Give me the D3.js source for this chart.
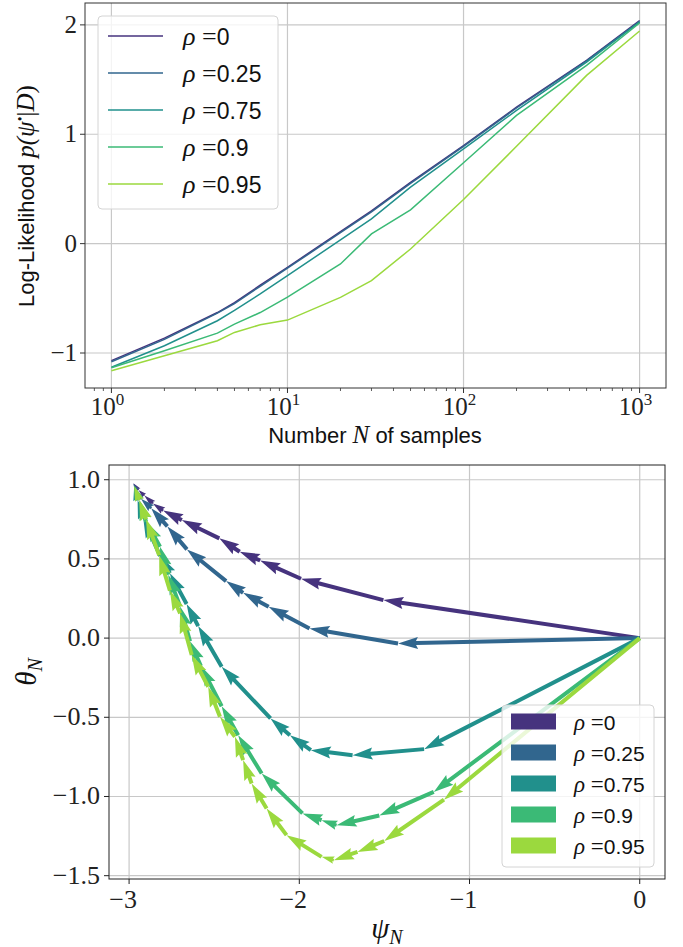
<!DOCTYPE html>
<html>
<head>
<meta charset="utf-8">
<script src="https://cdn.jsdelivr.net/npm/d3@7"></script>
<style>
  body { margin: 0; background: #fff; }
  svg { display: block; }
</style>
</head>
<body>
<svg width="683" height="947"></svg>
<script>
// ---- data ----
const sampleSizes = [1, 2, 4, 5, 7, 10, 20, 30, 50, 100, 200, 500, 1000];
const rhoLabels = ['0', '0.25', '0.75', '0.9', '0.95'];
const llRho0   = [-1.07, -0.864, -0.63, -0.54, -0.38, -0.217, 0.11, 0.30, 0.56, 0.897, 1.248, 1.676, 2.04];
const llRho025 = [-1.08, -0.875, -0.635, -0.548, -0.39, -0.225, 0.10, 0.29, 0.55, 0.89, 1.24, 1.67, 2.03];
const llRho075 = [-1.13, -0.934, -0.705, -0.61, -0.46, -0.293, 0.034, 0.226, 0.516, 0.867, 1.218, 1.66, 2.027];
const llRho09  = [-1.135, -0.98, -0.818, -0.736, -0.63, -0.49, -0.186, 0.089, 0.309, 0.739, 1.172, 1.63, 2.017];
const llRho095 = [-1.163, -1.026, -0.888, -0.812, -0.742, -0.699, -0.492, -0.339, -0.049, 0.403, 0.89, 1.538, 1.944];

// trajectories [psi, theta]
const trajRho0 = [[0, 0], [-1.506, 0.240], [-1.99, 0.375], [-2.23, 0.49], [-2.35, 0.545], [-2.47, 0.63],
  [-2.69, 0.745], [-2.80, 0.805], [-2.86, 0.85], [-2.91, 0.90], [-2.945, 0.935], [-2.975, 0.977]];
const trajRho025 = [[0, 0], [-1.42, -0.034], [-1.94, 0.061], [-2.18, 0.198], [-2.33, 0.286], [-2.43, 0.36],
  [-2.66, 0.56], [-2.775, 0.705], [-2.87, 0.82], [-2.93, 0.88], [-2.955, 0.935], [-2.975, 0.975]];
const trajRho075 = [[0, 0], [-1.267, -0.701], [-1.687, -0.739], [-1.932, -0.708], [-2.055, -0.613], [-2.169, -0.507],
  [-2.456, -0.181], [-2.594, 0.076], [-2.662, 0.215], [-2.76, 0.409], [-2.818, 0.518], [-2.917, 0.76],
  [-2.95, 0.87], [-2.97, 0.96]];
const trajRho09 = [[0, 0], [-1.21, -0.971], [-1.53, -1.12], [-1.781, -1.181], [-1.869, -1.15], [-1.981, -1.107],
  [-2.221, -0.855], [-2.359, -0.613], [-2.456, -0.43], [-2.578, -0.176], [-2.642, -0.02], [-2.70, 0.20],
  [-2.77, 0.40], [-2.818, 0.577], [-2.90, 0.734], [-2.94, 0.872], [-2.97, 0.96]];
const trajRho095 = [[0, 0], [-1.15, -1.02], [-1.501, -1.281], [-1.658, -1.35], [-1.797, -1.402], [-1.869, -1.381],
  [-2.075, -1.244], [-2.192, -1.076], [-2.28, -0.918], [-2.33, -0.77], [-2.378, -0.623], [-2.466, -0.497],
  [-2.535, -0.307], [-2.632, -0.107], [-2.70, 0.156], [-2.76, 0.30], [-2.823, 0.522], [-2.90, 0.75],
  [-2.94, 0.87], [-2.97, 0.96]];

const topTicksY = [-1, 0, 1, 2];
const topTicksX = [1, 10, 100, 1000];
const botTicksY = [1.0, 0.5, 0.0, -0.5, -1.0, -1.5];
const botTicksX = [-3, -2, -1, 0];

const colors = ['#46337e', '#31668e', '#21908c', '#3bba76', '#9bd93e'];
const gridColor = '#c8c8c8';
const SERIF = "'Liberation Serif', 'DejaVu Serif', serif";
const SANS = "'Liberation Sans', 'DejaVu Sans', sans-serif";

const svg = d3.select('svg');
const series = [llRho0, llRho025, llRho075, llRho09, llRho095];
const trajs = [trajRho0, trajRho025, trajRho075, trajRho09, trajRho095];

const fmtMinus = s => String(s).replace('-', '\u2212');

// ---------- top panel ----------
const tp = { left: 85, right: 666, top: 3, bottom: 388 };
const xTop = d3.scaleLog().domain([Math.pow(10, -0.15), Math.pow(10, 3.15)]).range([tp.left, tp.right]);
const yTop = d3.scaleLinear().domain([-1.32, 2.2]).range([tp.bottom, tp.top]);

let gTop = svg.append('g');

// grid
gTop.selectAll('.gx').data(topTicksX).enter().append('line')
  .attr('x1', d => xTop(d)).attr('x2', d => xTop(d))
  .attr('y1', tp.top).attr('y2', tp.bottom)
  .attr('stroke', gridColor).attr('stroke-width', 1.2);
gTop.selectAll('.gy').data(topTicksY).enter().append('line')
  .attr('x1', tp.left).attr('x2', tp.right)
  .attr('y1', d => yTop(d)).attr('y2', d => yTop(d))
  .attr('stroke', gridColor).attr('stroke-width', 1.2);

// lines
let line = d3.line().x((d, i) => xTop(sampleSizes[i])).y(d => yTop(d));
series.forEach((s, k) => {
  gTop.append('path').datum(s)
    .attr('d', line)
    .attr('fill', 'none')
    .attr('stroke', colors[k])
    .attr('stroke-width', 1.5);
});

// frame
gTop.append('rect')
  .attr('x', tp.left).attr('y', tp.top)
  .attr('width', tp.right - tp.left).attr('height', tp.bottom - tp.top)
  .attr('fill', 'none').attr('stroke', '#333').attr('stroke-width', 1);

// x ticks (major + minor)
let minor = [];
for (let e = -1; e <= 3; e++) {
  for (let m = 2; m <= 9; m++) {
    let v = m * Math.pow(10, e);
    if (v > xTop.domain()[0] && v < xTop.domain()[1]) minor.push(v);
  }
}
gTop.selectAll('.mt').data(minor).enter().append('line')
  .attr('x1', d => xTop(d)).attr('x2', d => xTop(d))
  .attr('y1', tp.bottom).attr('y2', tp.bottom + 3)
  .attr('stroke', '#333').attr('stroke-width', 0.8);
gTop.selectAll('.Mt').data(topTicksX).enter().append('line')
  .attr('x1', d => xTop(d)).attr('x2', d => xTop(d))
  .attr('y1', tp.bottom).attr('y2', tp.bottom + 5)
  .attr('stroke', '#333').attr('stroke-width', 1);
let xl = gTop.selectAll('.xl').data(topTicksX).enter().append('text')
  .attr('x', d => xTop(d) - 4).attr('y', 415)
  .attr('text-anchor', 'middle')
  .style('font-family', SERIF)
  .style('font-size', '25px').style('fill', '#222');
xl.append('tspan').text('10');
xl.append('tspan').attr('dy', -10).style('font-size', '17px').text(d => Math.round(Math.log10(d)));

// y ticks
gTop.selectAll('.yt').data(topTicksY).enter().append('line')
  .attr('x1', tp.left - 5).attr('x2', tp.left)
  .attr('y1', d => yTop(d)).attr('y2', d => yTop(d))
  .attr('stroke', '#333');
gTop.selectAll('.yl').data(topTicksY).enter().append('text')
  .attr('x', 77).attr('y', d => yTop(d) + 8)
  .attr('text-anchor', 'end')
  .style('font-family', SERIF)
  .style('font-size', '25px').style('fill', '#222')
  .text(d => fmtMinus(d));

// axis labels
let xlab = gTop.append('text').attr('x', 375).attr('y', 443)
  .attr('text-anchor', 'middle').style('font-size', '22px').style('fill', '#111');
xlab.append('tspan').style('font-family', SANS).text('Number ');
xlab.append('tspan').style('font-family', SERIF).style('font-style', 'italic').style('font-size', '25px').text('N');
xlab.append('tspan').style('font-family', SANS).text(' of samples');

let ylab = gTop.append('text')
  .attr('transform', 'translate(34,196) rotate(-90)')
  .attr('text-anchor', 'middle').style('font-size', '22px').style('fill', '#111');
ylab.append('tspan').style('font-family', SANS).text('Log-Likelihood ');
ylab.append('tspan').style('font-family', SERIF).style('font-style', 'italic').style('font-size', '25px').text('p(\u03C8');
ylab.append('tspan').style('font-family', SERIF).attr('dy', -9).style('font-size', '14px').text('\u2022');
ylab.append('tspan').style('font-family', SERIF).attr('dy', 9).style('font-size', '25px').text('|');
ylab.append('tspan').style('font-family', SERIF).style('font-style', 'italic').style('font-size', '25px').text('D');
ylab.append('tspan').style('font-family', SERIF).style('font-size', '25px').text(')');

// legend (top)
let legTop = gTop.append('g');
legTop.append('rect')
  .attr('x', 98).attr('y', 16).attr('width', 180).attr('height', 193)
  .attr('rx', 4).attr('fill', '#fff').attr('fill-opacity', 0.8)
  .attr('stroke', '#d4d4d4');
rhoLabels.forEach((lab, k) => {
  let cy = 36 + k * 37;
  legTop.append('line')
    .attr('x1', 108).attr('x2', 163).attr('y1', cy).attr('y2', cy)
    .attr('stroke', colors[k]).attr('stroke-width', 1.5);
  let t = legTop.append('text').attr('x', 183).attr('y', cy + 9).style('fill', '#111');
  t.append('tspan').style('font-family', SERIF).style('font-style', 'italic').style('font-size', '26px').text('\u03C1');
  t.append('tspan').style('font-family', SERIF).style('font-size', '26px').text(' =');
  t.append('tspan').style('font-family', SANS).style('font-size', '23px').text(lab);
});

// ---------- bottom panel ----------
const bp = { left: 109, right: 665, top: 465, bottom: 879 };
const xBot = d3.scaleLinear().domain([-3.118, 0.1485]).range([bp.left, bp.right]);
const yBot = d3.scaleLinear().domain([-1.521, 1.093]).range([bp.bottom, bp.top]);

let gBot = svg.append('g');

gBot.selectAll('.gx').data(botTicksX).enter().append('line')
  .attr('x1', d => xBot(d)).attr('x2', d => xBot(d))
  .attr('y1', bp.top).attr('y2', bp.bottom)
  .attr('stroke', gridColor).attr('stroke-width', 1.2);
gBot.selectAll('.gy').data(botTicksY).enter().append('line')
  .attr('x1', bp.left).attr('x2', bp.right)
  .attr('y1', d => yBot(d)).attr('y2', d => yBot(d))
  .attr('stroke', gridColor).attr('stroke-width', 1.2);

// quiver arrows (matplotlib-like polygons)
const shaftW = 4;
function arrowPoly(L, w) {
  let hl = 5 * w, hal = 4.5 * w, hw = 3 * w;
  let s = 1, len = L;
  if (L < hl) { s = L / hl; len = hl; }
  let pts = [[0, -w / 2], [len - hal, -w / 2], [len - hl, -hw / 2], [len, 0],
    [len - hl, hw / 2], [len - hal, w / 2], [0, w / 2]];
  return pts.map(p => [p[0] * s, p[1] * s]);
}

trajs.forEach((tr, k) => {
  let segs = d3.pairs(tr);
  gBot.append('g').selectAll('path').data(segs).enter().append('path')
    .attr('d', d => {
      let x0 = xBot(d[0][0]), y0 = yBot(d[0][1]);
      let x1 = xBot(d[1][0]), y1 = yBot(d[1][1]);
      let L = Math.hypot(x1 - x0, y1 - y0);
      return d3.line()(arrowPoly(L, shaftW)) + 'Z';
    })
    .attr('transform', d => {
      let x0 = xBot(d[0][0]), y0 = yBot(d[0][1]);
      let x1 = xBot(d[1][0]), y1 = yBot(d[1][1]);
      let a = Math.atan2(y1 - y0, x1 - x0) * 180 / Math.PI;
      return 'translate(' + x0 + ',' + y0 + ') rotate(' + a + ')';
    })
    .attr('fill', colors[k]);
});

gBot.append('rect')
  .attr('x', bp.left).attr('y', bp.top)
  .attr('width', bp.right - bp.left).attr('height', bp.bottom - bp.top)
  .attr('fill', 'none').attr('stroke', '#222').attr('stroke-width', 1);

gBot.selectAll('.xt').data(botTicksX).enter().append('line')
  .attr('x1', d => xBot(d)).attr('x2', d => xBot(d))
  .attr('y1', bp.bottom).attr('y2', bp.bottom + 5)
  .attr('stroke', '#222');
gBot.selectAll('.xl').data(botTicksX).enter().append('text')
  .attr('x', d => xBot(d) - (d < 0 ? 6 : 0)).attr('y', 908)
  .attr('text-anchor', 'middle')
  .style('font-family', SERIF)
  .style('font-size', '26px').style('fill', '#222')
  .text(d => fmtMinus(d));
gBot.selectAll('.yt').data(botTicksY).enter().append('line')
  .attr('x1', bp.left - 5).attr('x2', bp.left)
  .attr('y1', d => yBot(d)).attr('y2', d => yBot(d))
  .attr('stroke', '#222');
gBot.selectAll('.yl').data(botTicksY).enter().append('text')
  .attr('x', 100).attr('y', d => yBot(d) + 8)
  .attr('text-anchor', 'end')
  .style('font-family', SERIF)
  .style('font-size', '26px').style('fill', '#222')
  .text(d => fmtMinus(d.toFixed(1)));

let psiLab = gBot.append('text')
  .attr('x', 387).attr('y', 938).attr('text-anchor', 'middle')
  .style('font-family', SERIF)
  .style('font-size', '29px').style('font-style', 'italic').style('fill', '#111');
psiLab.append('tspan').text('\u03C8');
psiLab.append('tspan').attr('dy', 6).style('font-size', '20px').text('N');

let thetaLab = gBot.append('text')
  .attr('transform', 'translate(36,672) rotate(-90)').attr('text-anchor', 'middle')
  .style('font-family', SERIF)
  .style('font-size', '29px').style('font-style', 'italic').style('fill', '#111');
thetaLab.append('tspan').text('\u03B8');
thetaLab.append('tspan').attr('dy', 6).style('font-size', '20px').text('N');

// legend (bottom)
let legBot = gBot.append('g');
legBot.append('rect')
  .attr('x', 502).attr('y', 705).attr('width', 152).attr('height', 162)
  .attr('rx', 4).attr('fill', '#fff').attr('fill-opacity', 0.8)
  .attr('stroke', '#d4d4d4');
rhoLabels.forEach((lab, k) => {
  let cy = 721.5 + k * 31;
  legBot.append('rect')
    .attr('x', 511).attr('y', cy - 8).attr('width', 45).attr('height', 16)
    .attr('fill', colors[k]);
  let t = legBot.append('text').attr('x', 574).attr('y', cy + 8).style('fill', '#111');
  t.append('tspan').style('font-family', SERIF).style('font-style', 'italic').style('font-size', '23px').text('\u03C1');
  t.append('tspan').style('font-family', SERIF).style('font-size', '23px').text(' =');
  t.append('tspan').style('font-family', SANS).style('font-size', '21px').text(lab);
});
</script>
</body>
</html>
